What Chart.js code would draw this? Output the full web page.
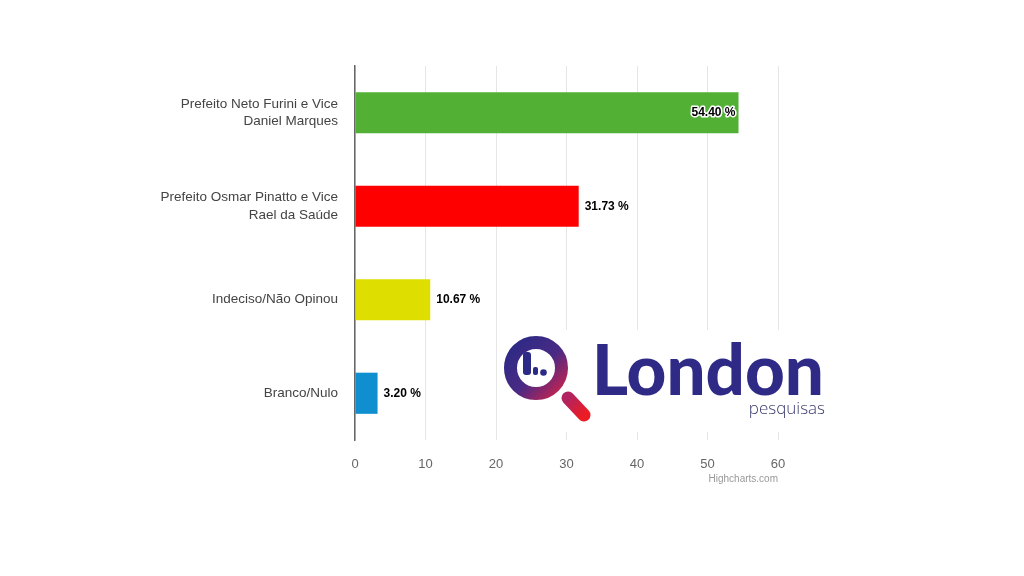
<!DOCTYPE html>
<html>
<head>
<meta charset="utf-8">
<script src="https://cdn.jsdelivr.net/npm/chart.js@4.4.1/dist/chart.umd.min.js"></script>
<style>
  html, body { margin: 0; padding: 0; background: #fff; }
  #wrap { position: relative; width: 1024px; height: 576px; }
  #logo { position: absolute; left: 0; top: 0; }
</style>
</head>
<body>
<div id="wrap">
  <canvas id="chart" width="1024" height="576"></canvas>
  <svg id="logo" width="1024" height="576" viewBox="0 0 1024 576">
    <defs>
      <linearGradient id="ring" x1="0" y1="0" x2="1" y2="1">
        <stop offset="0" stop-color="#2b2a86"/>
        <stop offset="0.55" stop-color="#4a2a84"/>
        <stop offset="1" stop-color="#c8234f"/>
      </linearGradient>
      <linearGradient id="handle" x1="0" y1="0" x2="1" y2="1">
        <stop offset="0" stop-color="#b02460"/>
        <stop offset="1" stop-color="#ec1c24"/>
      </linearGradient>
    </defs>
    <!-- fundo branco do logo (corta as linhas de grade) -->
    <rect x="497" y="330" width="338" height="102" fill="#ffffff"/>
    <line x1="568" y1="398" x2="584" y2="415" stroke="url(#handle)" stroke-width="13" stroke-linecap="round"/>
    <circle cx="536" cy="368" r="25.5" fill="none" stroke="url(#ring)" stroke-width="13"/>
    <rect x="523" y="352" width="8" height="23" rx="3" fill="#2b2a86"/>
    <rect x="533" y="367" width="5" height="8" rx="2" fill="#2b2a86"/>
    <circle cx="543.5" cy="372.5" r="3.3" fill="#2b2a86"/>
    <text x="592" y="395" textLength="232" lengthAdjust="spacingAndGlyphs"
          font-family="Lato, 'Open Sans', sans-serif" font-weight="900" font-size="70" fill="#2e2a86">London</text>
    <text x="825" y="414" text-anchor="end" font-family="'Open Sans', Lato, sans-serif" font-weight="300"
          font-size="17" fill="#3a3a6e">pesquisas</text>
  </svg>
</div>
<script>
// dados
const categorias = [
  ['Prefeito Neto Furini e Vice', 'Daniel Marques'],
  ['Prefeito Osmar Pinatto e Vice', 'Rael da Saúde'],
  'Indeciso/Não Opinou',
  'Branco/Nulo'
];
const valores = [54.40, 31.73, 10.67, 3.20];
const cores = ['#52b135', '#ff0000', '#dede00', '#0f8ed0'];
const ticksX = [0, 10, 20, 30, 40, 50, 60];

// rótulos de valor estilo Highcharts
const rotulosPlugin = {
  id: 'rotulos',
  afterDatasetsDraw(chart) {
    const ctx = chart.ctx;
    const meta = chart.getDatasetMeta(0);
    const area = chart.chartArea;
    ctx.save();
    ctx.font = 'bold 12px "Liberation Sans", Arial, sans-serif';
    ctx.textBaseline = 'middle';
    meta.data.forEach((bar, i) => {
      const txt = valores[i].toFixed(2) + ' %';
      const w = ctx.measureText(txt).width;
      if (bar.x + 6 + w > area.right) {
        // dentro da barra, com contorno branco
        ctx.textAlign = 'right';
        ctx.lineWidth = 3;
        ctx.lineJoin = 'round';
        ctx.strokeStyle = '#ffffff';
        ctx.strokeText(txt, bar.x - 3, bar.y);
        ctx.fillStyle = '#000000';
        ctx.fillText(txt, bar.x - 3, bar.y);
      } else {
        ctx.textAlign = 'left';
        ctx.fillStyle = '#000000';
        ctx.fillText(txt, bar.x + 6, bar.y);
      }
    });
    ctx.restore();
  }
};

// crédito "Highcharts.com"
const creditoPlugin = {
  id: 'credito',
  afterDraw(chart) {
    const ctx = chart.ctx;
    ctx.save();
    ctx.font = '10px "Liberation Sans", Arial, sans-serif';
    ctx.fillStyle = '#999999';
    ctx.textAlign = 'right';
    ctx.textBaseline = 'middle';
    ctx.fillText('Highcharts.com', 778, 479);
    ctx.restore();
  }
};

new Chart(document.getElementById('chart'), {
  type: 'bar',
  data: {
    labels: categorias,
    datasets: [{
      data: valores,
      backgroundColor: cores,
      borderWidth: 0,
      categoryPercentage: 1,
      barPercentage: 0.44
    }]
  },
  options: {
    indexAxis: 'y',
    responsive: false,
    animation: false,
    layout: { padding: { top: 66, right: 246, left: 0, bottom: 0 } },
    plugins: { legend: { display: false }, tooltip: { enabled: false } },
    scales: {
      x: {
        min: 0, max: 60,
        afterBuildTicks(scale) { scale.ticks = ticksX.map(v => ({ value: v })); },
        afterFit(scale) { scale.height = 136; },
        grid: { color: '#e6e6e6', drawTicks: false, lineWidth: 1 },
        border: { display: false },
        ticks: {
          padding: 17,
          color: '#666666',
          font: { family: '"Liberation Sans", Arial, sans-serif', size: 13 }
        }
      },
      y: {
        afterFit(scale) { scale.width = 355; },
        grid: { display: false, drawTicks: false },
        border: { display: true, color: '#666666', width: 1.5 },
        ticks: {
          padding: 17,
          color: '#444444',
          font: { family: '"Liberation Sans", Arial, sans-serif', size: 13.5, lineHeight: 1.27 }
        }
      }
    }
  },
  plugins: [rotulosPlugin, creditoPlugin]
});
</script>
</body>
</html>
